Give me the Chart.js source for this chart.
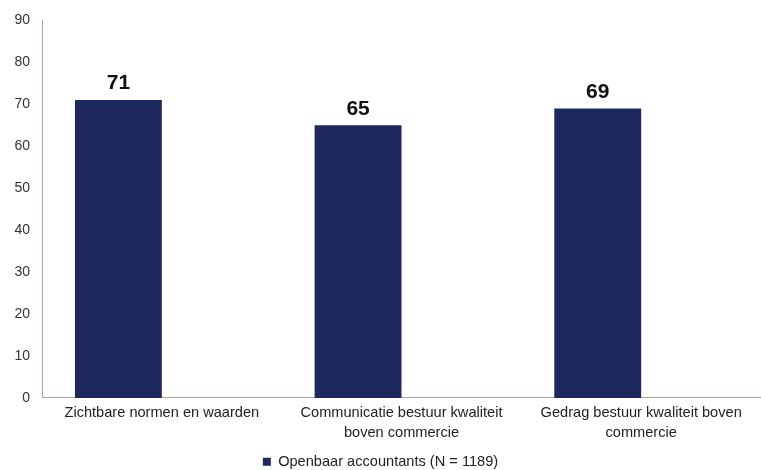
<!DOCTYPE html>
<html>
<head>
    <style>
        body, html {
            margin: 0;
            background: #ffffff;
        }
        #wrap {
            width: 761px;
            height: 470px;
        }
    </style>
    <script src="https://cdn.jsdelivr.net/npm/chart.js"></script>
</head>
<body>
    <div id="wrap">
        <canvas id="scoreChart" width="761" height="470"></canvas>
    </div>

    <script>
        const categories = [
            "Zichtbare normen en waarden",
            ["Communicatie bestuur kwaliteit", "boven commercie"],
            ["Gedrag bestuur kwaliteit boven", "commercie"]
        ];
        const seriesName = "Openbaar accountants (N = 1189)";
        const seriesValues = [71, 65, 69];
        // empty second slot in each group keeps the bars on the left of the category
        const emptyValues = [null, null, null];
        const yTicks = [0, 10, 20, 30, 40, 50, 60, 70, 80, 90];

        const barColor = "#1d285e";
        const axisColor = "#b3a1a1";

        // prints the value above each bar
        const valueLabels = {
            id: "valueLabels",
            afterDatasetsDraw(chart) {
                const ctx = chart.ctx;
                const meta = chart.getDatasetMeta(0);
                ctx.save();
                ctx.font = "bold 21px 'Liberation Sans', Arial, sans-serif";
                ctx.fillStyle = "#111111";
                ctx.textAlign = "center";
                ctx.textBaseline = "bottom";
                meta.data.forEach((bar, i) => {
                    ctx.fillText(seriesValues[i], bar.x, bar.y - 6);
                });
                ctx.restore();
            }
        };

        const ctx = document.getElementById("scoreChart").getContext("2d");
        new Chart(ctx, {
            type: "bar",
            data: {
                labels: categories,
                datasets: [{
                    label: seriesName,
                    data: seriesValues,
                    backgroundColor: barColor,
                    borderWidth: 0,
                    barPercentage: 1.0,
                    categoryPercentage: 0.725
                }, {
                    label: "",
                    data: emptyValues,
                    backgroundColor: "rgba(0,0,0,0)",
                    barPercentage: 1.0,
                    categoryPercentage: 0.725
                }]
            },
            options: {
                responsive: false,
                animation: false,
                layout: {
                    padding: { top: 9, right: 0, left: 0, bottom: -9 }
                },
                scales: {
                    x: {
                        grid: { display: false, drawTicks: false },
                        border: { display: true, color: axisColor, width: 1 },
                        ticks: {
                            color: "#222222",
                            font: { family: "'Liberation Sans', Arial, sans-serif", size: 14.6, lineHeight: 1.35 },
                            maxRotation: 0,
                            autoSkip: false,
                            padding: 5
                        }
                    },
                    y: {
                        min: 0,
                        max: 90,
                        afterBuildTicks: (scale) => {
                            scale.ticks = yTicks.map(v => ({ value: v }));
                        },
                        afterFit: (scale) => {
                            scale.width = 42;
                        },
                        grid: { display: false, drawTicks: false },
                        border: { display: true, color: axisColor, width: 1 },
                        ticks: {
                            color: "#333333",
                            font: { family: "'Liberation Sans', Arial, sans-serif", size: 14 },
                            padding: 12
                        }
                    }
                },
                plugins: {
                    legend: {
                        position: "bottom",
                        labels: {
                            color: "#222222",
                            font: { family: "'Liberation Sans', Arial, sans-serif", size: 14.6 },
                            boxWidth: 8,
                            boxHeight: 8,
                            padding: 7,
                            filter: (item) => item.text !== ""
                        }
                    },
                    tooltip: { enabled: false }
                }
            },
            plugins: [valueLabels]
        });
    </script>
</body>
</html>
